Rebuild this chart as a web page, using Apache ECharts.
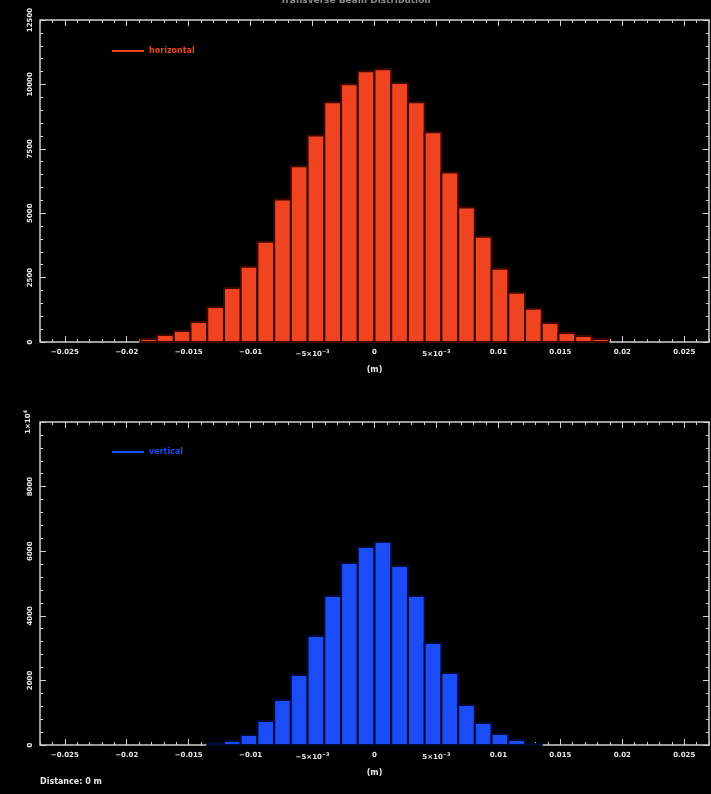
<!DOCTYPE html>
<html>
<head>
<meta charset="utf-8">
<script src="https://cdn.jsdelivr.net/npm/echarts@6/dist/echarts.min.js"></script>
<style>
  html, body { margin: 0; padding: 0; background: #000; }
  #chart { width: 711px; height: 794px; }
</style>
</head>
<body>
<div id="chart"></div>
<script>
// Histogram binning (m)
const axisMin = -0.027;
const axisMax = 0.027;
const binStart = -0.027;
const binWidth = 0.00135;

// Horizontal profile: counts for consecutive bins starting at bin index 6
const horizontalFirstBin = 6;
const horizontalCounts = [120, 270, 430, 780, 1360, 2100, 2920, 3890, 5530, 6820, 8020, 9310, 10010, 10510,
                          10590, 10050, 9310, 8140, 6580, 5220, 4090, 2840, 1910, 1290, 740, 350, 230, 120];

// Vertical profile: counts for consecutive bins starting at bin index 10
const verticalFirstBin = 10;
const verticalCounts = [62, 124, 310, 743, 1393, 2167, 3375, 4613, 5635, 6130,
                        6285, 5542, 4613, 3158, 2229, 1238, 681, 341, 155, 31];

// Tick values
const xMajorTicks = [-0.025, -0.02, -0.015, -0.01, -0.005, 0, 0.005, 0.01, 0.015, 0.02, 0.025];
const xTickLabels = ['−0.025', '−0.02', '−0.015', '−0.01', '−5×10{s|−3}', '0', '5×10{s|−3}', '0.01', '0.015', '0.02', '0.025'];
const topYMax = 12500, topYStep = 2500;
const bottomYMax = 10000, bottomYStep = 2000;

const frameColor = '#d0d0d0';
const labelColor = '#e8e8e8';
const horizontalColor = '#f04420';
const horizontalEdge = '#3a0800';
const verticalColor = '#1a4cf8';
const verticalEdge = '#020a33';

function toBars(firstBin, counts) {
  return counts.map((c, i) => {
    const x0 = binStart + (firstBin + i) * binWidth;
    return [x0, x0 + binWidth, c];
  });
}

function renderBar(color, edge) {
  return function (params, api) {
    const p0 = api.coord([api.value(0), 0]);
    const p1 = api.coord([api.value(1), api.value(2)]);
    return {
      type: 'rect',
      shape: { x: p0[0], y: p1[1], width: p1[0] - p0[0], height: p0[1] - p1[1] },
      style: { fill: color, stroke: edge, lineWidth: 2 }
    };
  };
}

function xLabelFormatter(v) {
  const i = xMajorTicks.findIndex(t => Math.abs(t - v) < 1e-9);
  return i >= 0 ? xTickLabels[i] : '';
}

const hiddenLine = { show: false, onZero: false };

function xAxes(gridIndex, withName) {
  const base = {
    gridIndex, type: 'value', min: axisMin, max: axisMax,
    splitLine: { show: false }, axisLine: hiddenLine
  };
  return [
    Object.assign({}, base, {
      position: 'bottom',
      name: withName ? '(m)' : '', nameLocation: 'middle', nameGap: 24,
      nameTextStyle: { color: labelColor, fontSize: 8, fontWeight: 'bold', fontFamily: 'DejaVu Sans' },
      axisTick: { show: true, inside: true, length: 6, customValues: xMajorTicks, lineStyle: { color: frameColor } },
      axisLabel: {
        show: true, customValues: xMajorTicks, formatter: xLabelFormatter, margin: 7,
        color: labelColor, fontSize: 7, fontWeight: 'bold', fontFamily: 'DejaVu Sans',
        rich: { s: { fontSize: 5, verticalAlign: 'top', padding: [0, 0, 6, 0], color: labelColor, fontWeight: 'bold' } }
      }
    }),
    Object.assign({}, base, {
      position: 'bottom', interval: 0.001,
      axisTick: { show: true, inside: true, length: 3, lineStyle: { color: frameColor } },
      axisLabel: { show: false }
    }),
    Object.assign({}, base, {
      position: 'top',
      axisTick: { show: true, inside: true, length: 6, customValues: xMajorTicks, lineStyle: { color: frameColor } },
      axisLabel: { show: false }
    }),
    Object.assign({}, base, {
      position: 'top', interval: 0.001,
      axisTick: { show: true, inside: true, length: 3, lineStyle: { color: frameColor } },
      axisLabel: { show: false }
    })
  ];
}

function yAxes(gridIndex, max, step, formatter) {
  const base = {
    gridIndex, type: 'value', min: 0, max,
    splitLine: { show: false }, axisLine: hiddenLine
  };
  return [
    Object.assign({}, base, {
      position: 'left', interval: step,
      axisTick: { show: true, inside: true, length: 6, lineStyle: { color: frameColor } },
      axisLabel: {
        show: true, rotate: 90, margin: 6, formatter,
        color: labelColor, fontSize: 7, fontWeight: 'bold', fontFamily: 'DejaVu Sans',
        rich: { s: { fontSize: 5, verticalAlign: 'top', padding: [0, 0, 6, 0], color: labelColor, fontWeight: 'bold' } }
      }
    }),
    Object.assign({}, base, {
      position: 'left', interval: step / 5,
      axisTick: { show: true, inside: true, length: 3, lineStyle: { color: frameColor } },
      axisLabel: { show: false }
    }),
    Object.assign({}, base, {
      position: 'right', interval: step,
      axisTick: { show: true, inside: true, length: 6, lineStyle: { color: frameColor } },
      axisLabel: { show: false }
    }),
    Object.assign({}, base, {
      position: 'right', interval: step / 5,
      axisTick: { show: true, inside: true, length: 3, lineStyle: { color: frameColor } },
      axisLabel: { show: false }
    })
  ];
}

const chart = echarts.init(document.getElementById('chart'), null, { renderer: 'canvas' });

const option = {
  backgroundColor: '#000',
  animation: false,
  title: {
    text: 'Transverse Beam Distribution', left: 'center', top: -9,
    textStyle: { color: '#8a8a8a', fontSize: 9, fontWeight: 'bold', fontFamily: 'DejaVu Sans' }
  },
  legend: [
    {
      data: ['horizontal'], left: 107, top: 42, icon: 'rect', itemWidth: 32, itemHeight: 2, itemGap: 6,
      textStyle: { color: horizontalColor, fontSize: 8, fontWeight: 'bold', fontFamily: 'DejaVu Sans' }
    },
    {
      data: ['vertical'], left: 107, top: 443, icon: 'rect', itemWidth: 32, itemHeight: 2, itemGap: 6,
      textStyle: { color: verticalColor, fontSize: 8, fontWeight: 'bold', fontFamily: 'DejaVu Sans' }
    }
  ],
  grid: [
    { left: 40, top: 20, right: 2, height: 322, show: true, borderColor: frameColor, borderWidth: 1.5, backgroundColor: 'transparent' },
    { left: 40, top: 422, right: 2, height: 323, show: true, borderColor: frameColor, borderWidth: 1.5, backgroundColor: 'transparent' }
  ],
  xAxis: [].concat(xAxes(0, true), xAxes(1, true)),
  yAxis: [].concat(
    yAxes(0, topYMax, topYStep, v => String(v)),
    yAxes(1, bottomYMax, bottomYStep, v => (v === bottomYMax ? '1×10{s|4}' : String(v)))
  ),
  graphic: [
    {
      type: 'text', left: 40, top: 778,
      style: { text: 'Distance: 0 m', fill: labelColor, font: 'bold 8px "DejaVu Sans"' }
    }
  ],
  series: [
    {
      name: 'horizontal', type: 'custom', xAxisIndex: 0, yAxisIndex: 0,
      itemStyle: { color: horizontalColor },
      renderItem: renderBar(horizontalColor, horizontalEdge),
      encode: { x: [0, 1], y: 2 },
      data: toBars(horizontalFirstBin, horizontalCounts)
    },
    {
      name: 'vertical', type: 'custom', xAxisIndex: 4, yAxisIndex: 4,
      itemStyle: { color: verticalColor },
      renderItem: renderBar(verticalColor, verticalEdge),
      encode: { x: [0, 1], y: 2 },
      data: toBars(verticalFirstBin, verticalCounts)
    }
  ]
};

chart.setOption(option);
</script>
</body>
</html>
